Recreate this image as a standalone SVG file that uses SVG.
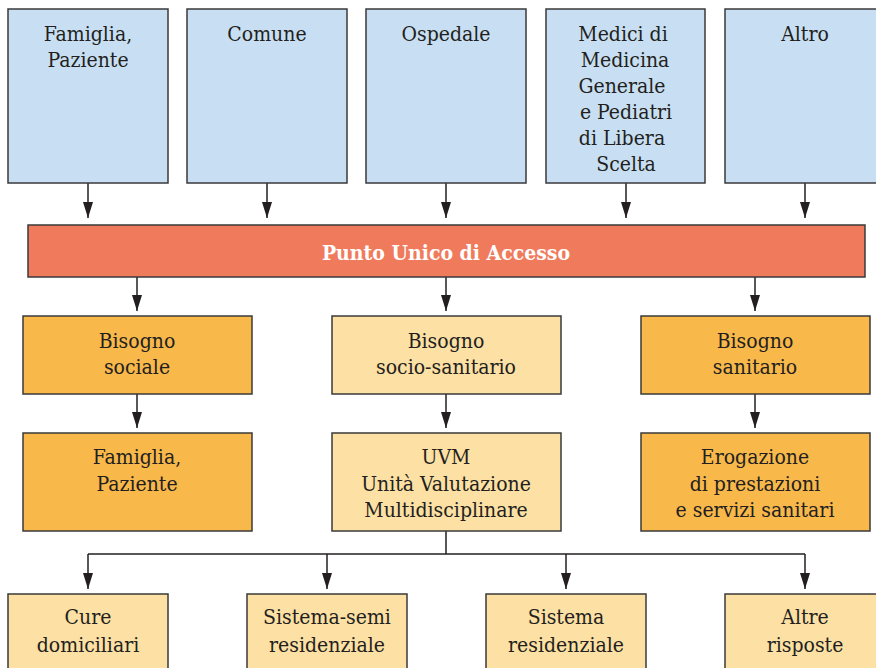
<svg xmlns="http://www.w3.org/2000/svg" width="876" height="668" viewBox="0 0 876 668">
<style>
.b{stroke:#3a3a3a;stroke-width:1.5}
.blue{fill:#c8dff3}
.dark{fill:#f9b84a}
.light{fill:#fde0a3}
.red{fill:#f07a5c}
text{font-family:"DejaVu Serif Condensed","DejaVu Serif","Liberation Serif",serif;font-size:21px;fill:#231f20;text-anchor:middle}
.w{fill:#ffffff;font-weight:bold}
.c{stroke:#231f20;stroke-width:1.5;fill:none}
</style>
<defs>
<marker id="a" markerWidth="16" markerHeight="10" refX="16" refY="5" orient="auto" markerUnits="userSpaceOnUse" viewBox="0 0 16 10">
<path d="M0,0 L16,5 L0,10 Z" fill="#231f20"/>
</marker>
</defs>
<rect width="876" height="668" fill="#ffffff"/>
<g id="connectors">
<line class="c" x1="88" y1="183" x2="88" y2="218" marker-end="url(#a)"/>
<line class="c" x1="267" y1="183" x2="267" y2="218" marker-end="url(#a)"/>
<line class="c" x1="446" y1="183" x2="446" y2="218" marker-end="url(#a)"/>
<line class="c" x1="626" y1="183" x2="626" y2="218" marker-end="url(#a)"/>
<line class="c" x1="805" y1="183" x2="805" y2="218" marker-end="url(#a)"/>
<line class="c" x1="137" y1="277" x2="137" y2="311" marker-end="url(#a)"/>
<line class="c" x1="446" y1="277" x2="446" y2="311" marker-end="url(#a)"/>
<line class="c" x1="755" y1="277" x2="755" y2="311" marker-end="url(#a)"/>
<line class="c" x1="137" y1="394" x2="137" y2="428" marker-end="url(#a)"/>
<line class="c" x1="446" y1="394" x2="446" y2="428" marker-end="url(#a)"/>
<line class="c" x1="755" y1="394" x2="755" y2="428" marker-end="url(#a)"/>
<polyline class="c" points="446,531 446,554"/>
<polyline class="c" points="88,554 805,554"/>
<line class="c" x1="88" y1="554" x2="88" y2="589" marker-end="url(#a)"/>
<line class="c" x1="327" y1="554" x2="327" y2="589" marker-end="url(#a)"/>
<line class="c" x1="566" y1="554" x2="566" y2="589" marker-end="url(#a)"/>
<line class="c" x1="805" y1="554" x2="805" y2="589" marker-end="url(#a)"/>
</g>
<g id="famiglia-top"><rect class="b blue" x="8" y="9" width="160" height="174"/><text x="88" y="41">Famiglia,</text><text x="88" y="67">Paziente</text></g>
<g id="comune"><rect class="b blue" x="187" y="9" width="160" height="174"/><text x="267" y="41">Comune</text></g>
<g id="ospedale"><rect class="b blue" x="366" y="9" width="160" height="174"/><text x="446" y="41">Ospedale</text></g>
<g id="medici"><rect class="b blue" x="546" y="9" width="159" height="174"/><text x="623" y="41">Medici di</text><text x="625" y="67">Medicina</text><text x="622" y="93">Generale</text><text x="626" y="119">e Pediatri</text><text x="622" y="145">di Libera</text><text x="626" y="171">Scelta</text></g>
<g id="altro"><rect class="b blue" x="725" y="9" width="160" height="174"/><text x="805" y="41">Altro</text></g>
<g id="pua"><rect class="b red" x="28" y="225" width="837" height="52"/><text class="w" x="446" y="260">Punto Unico di Accesso</text></g>
<g id="bisogno-sociale"><rect class="b dark" x="23" y="316" width="229" height="78"/><text x="137" y="348">Bisogno</text><text x="137" y="374">sociale</text></g>
<g id="bisogno-sociosanitario"><rect class="b light" x="332" y="316" width="229" height="78"/><text x="446" y="348">Bisogno</text><text x="446" y="374">socio-sanitario</text></g>
<g id="bisogno-sanitario"><rect class="b dark" x="641" y="316" width="229" height="78"/><text x="755" y="348">Bisogno</text><text x="755" y="374">sanitario</text></g>
<g id="famiglia-mid"><rect class="b dark" x="23" y="433" width="229" height="98"/><text x="137" y="464">Famiglia,</text><text x="137" y="491">Paziente</text></g>
<g id="uvm"><rect class="b light" x="332" y="433" width="229" height="98"/><text x="446" y="464">UVM</text><text x="446" y="491">Unità Valutazione</text><text x="446" y="517">Multidisciplinare</text></g>
<g id="erogazione"><rect class="b dark" x="641" y="433" width="229" height="98"/><text x="755" y="464">Erogazione</text><text x="755" y="491">di prestazioni</text><text x="755" y="517">e servizi sanitari</text></g>
<g id="cure"><rect class="b light" x="8" y="594" width="160" height="90"/><text x="88" y="624">Cure</text><text x="88" y="652">domiciliari</text></g>
<g id="semi"><rect class="b light" x="247" y="594" width="160" height="90"/><text x="327" y="624">Sistema-semi</text><text x="327" y="652">residenziale</text></g>
<g id="residenziale"><rect class="b light" x="486" y="594" width="160" height="90"/><text x="566" y="624">Sistema</text><text x="566" y="652">residenziale</text></g>
<g id="altre"><rect class="b light" x="725" y="594" width="160" height="90"/><text x="805" y="624">Altre</text><text x="805" y="652">risposte</text></g>
</svg>
